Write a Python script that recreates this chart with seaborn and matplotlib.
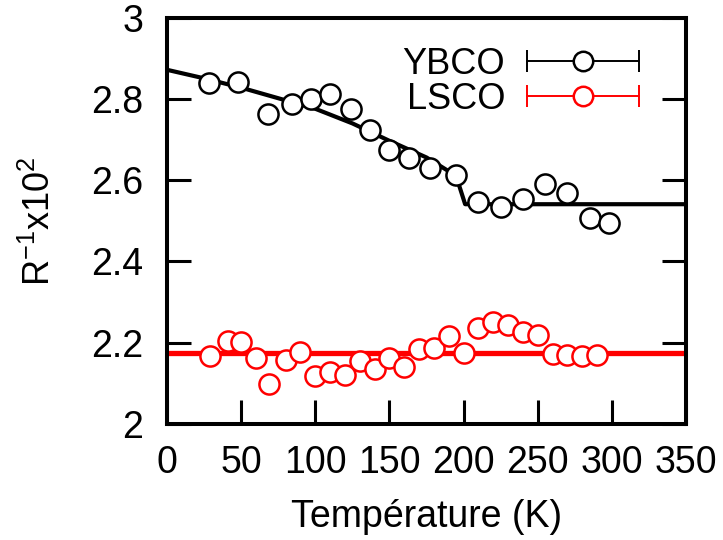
import numpy as np
import pandas as pd
import matplotlib
matplotlib.use('Agg')
import matplotlib.pyplot as plt
import matplotlib.ticker as mticker
from matplotlib.lines import Line2D
from matplotlib.legend_handler import HandlerBase
import seaborn as sns

# donnees
temp_ybco = [28, 48, 68, 84, 97, 110, 124, 137, 150, 163, 177, 195,
             210, 225, 240, 255, 270, 285, 298]
r_ybco = [2.839, 2.842, 2.764, 2.788, 2.800, 2.812, 2.775, 2.724, 2.675, 2.656,
          2.630, 2.612, 2.546, 2.535, 2.553, 2.590, 2.568, 2.507, 2.494]

temp_lsco = [29, 41, 50, 60, 69, 80, 90, 100, 110, 120, 130, 140, 150, 160,
             170, 180, 190, 200, 210, 220, 230, 240, 250, 260, 270, 280, 290]
r_lsco = [2.168, 2.203, 2.201, 2.163, 2.098, 2.158, 2.176, 2.118, 2.129, 2.121,
          2.155, 2.135, 2.162, 2.139, 2.184, 2.186, 2.217, 2.174, 2.237, 2.250,
          2.244, 2.227, 2.219, 2.172, 2.170, 2.166, 2.170]

# courbes d'ajustement (points relevés)
fit_t_ybco = [0, 25, 50, 75, 100, 125, 150, 175, 190, 196, 201, 350]
fit_r_ybco = [2.872, 2.851, 2.828, 2.802, 2.776, 2.740, 2.697, 2.656, 2.622, 2.598, 2.541, 2.541]
fit_t_lsco = [0, 350]
fit_r_lsco = [2.174, 2.174]

sns.set_style('ticks')
plt.rcParams['font.family'] = ['Liberation Sans', 'DejaVu Sans']
plt.rcParams['mathtext.fontset'] = 'custom'
plt.rcParams['mathtext.rm'] = 'Liberation Sans'
plt.rcParams['mathtext.it'] = 'Liberation Sans'
for k in ['text.color', 'axes.labelcolor', 'xtick.color', 'ytick.color', 'axes.edgecolor']:
    plt.rcParams[k] = 'black'


# symbole de legende facon gnuplot: barre horizontale + chapeaux + cercle
class HandlerBarre(HandlerBase):
    def create_artists(self, legend, orig_handle, xdescent, ydescent,
                       width, height, fontsize, trans):
        c = orig_handle.get_color()
        y = height / 2 - ydescent
        x0, x1 = -xdescent, width - xdescent
        ligne = Line2D([x0, x1], [y, y], color=c, lw=1.4)
        caps = Line2D([x0, x1], [y, y], ls='none', marker='|', ms=16, mew=1.4, color=c)
        pt = Line2D([(x0 + x1) / 2], [y], ls='none', marker='o', ms=14,
                    mfc='white', mec=c, mew=1.8)
        for a in (ligne, caps, pt):
            a.set_transform(trans)
        return [ligne, caps, pt]


fig = plt.figure(figsize=(7.23, 5.4), dpi=100)
ax = fig.add_axes([0.231, 0.215, 0.718, 0.752])

sns.lineplot(x=fit_t_ybco, y=fit_r_ybco, ax=ax, color='black', lw=3, zorder=2)
sns.lineplot(x=fit_t_lsco, y=fit_r_lsco, ax=ax, color='red', lw=3.8, zorder=2)

sns.scatterplot(x=temp_ybco, y=r_ybco, ax=ax, marker='o', s=210,
                facecolor='white', edgecolor='black', linewidth=1.8, zorder=3)
sns.scatterplot(x=temp_lsco, y=r_lsco, ax=ax, marker='o', s=210,
                facecolor='white', edgecolor='red', linewidth=1.8, zorder=3)

h1 = Line2D([], [], color='black', label='YBCO')
h2 = Line2D([], [], color='red', label='LSCO')
ax.legend(handles=[h1, h2], loc='upper right', bbox_to_anchor=(0.909, 0.928),
          markerfirst=False, frameon=False, fontsize=26, handlelength=3.1,
          handletextpad=0.6, labelspacing=0.0, borderpad=0.0, borderaxespad=0.0,
          handler_map={Line2D: HandlerBarre()})

ax.set_xlim(0, 350)
ax.set_ylim(2, 3)
ax.set_xticks(np.arange(0, 351, 50))
ax.set_yticks(np.arange(2, 3.01, 0.2))
ax.yaxis.set_major_formatter(mticker.FormatStrFormatter('%g'))
ax.tick_params(axis='both', direction='in', length=17, width=2.2, labelsize=27)
ax.tick_params(axis='x', pad=15)
ax.tick_params(axis='y', right=True, pad=17)
for s in ax.spines.values():
    s.set_linewidth(2.9)
    s.set_visible(True)

ax.set_xlabel('Température (K)', fontsize=27, labelpad=13)
ax.set_ylabel(r'R$^{-1}$x10$^{2}$', fontsize=26, labelpad=24)

plt.savefig('out.png', dpi=100)
